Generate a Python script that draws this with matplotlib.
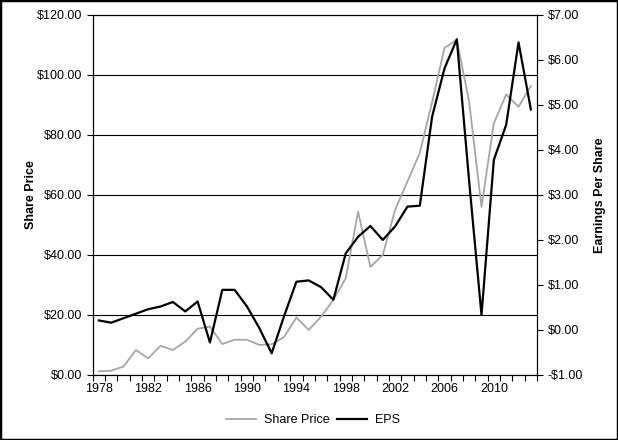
import numpy as np
import matplotlib.pyplot as plt
from matplotlib.patches import Rectangle
from matplotlib.ticker import FuncFormatter

plt.rcParams['font.family'] = ['Liberation Sans', 'DejaVu Sans']

years = list(range(1978, 2014))
share_price = [1.2, 1.4, 2.8, 8.3, 5.5, 9.7, 8.3, 11.1, 15.4, 16.1,
               10.3, 11.7, 11.7, 10.0, 10.2, 12.6, 19.1, 15.0, 19.4, 25.0,
               32.2, 54.4, 36.0, 40.0, 55.0, 64.5, 74.0, 91.0, 109.0, 111.7,
               91.0, 56.0, 83.9, 93.5, 89.4, 96.3]
eps = [0.21, 0.16, 0.26, 0.36, 0.46, 0.52, 0.62, 0.41, 0.63, -0.28,
       0.89, 0.89, 0.52, 0.04, -0.52, 0.30, 1.07, 1.10, 0.95, 0.67,
       1.70, 2.07, 2.31, 2.00, 2.30, 2.74, 2.76, 4.74, 5.81, 6.46,
       3.30, 0.33, 3.78, 4.56, 6.39, 4.90]
year_labels = list(range(1978, 2013, 4))


def money(v, pos):
    return '-${:.2f}'.format(-v) if v < 0 else '${:.2f}'.format(v)


fig = plt.figure(figsize=(6.18, 4.40), dpi=100)
ax = fig.add_axes([0.150, 0.148, 0.719, 0.818])
ax2 = ax.twinx()

ax.plot(years, share_price, color='#a6a6a6', lw=1.3, label='Share Price', zorder=3)
ax2.plot(years, eps, color='black', lw=1.6, label='EPS', zorder=3)

ax.set_xlim(1977.5, 2013.5)
ax.set_ylim(0, 120)
ax.set_yticks(np.arange(0, 121, 20))
ax.yaxis.set_major_formatter(FuncFormatter(money))
ax.grid(axis='y', color='black', lw=0.8)
ax.set_axisbelow(True)
ax.set_xticks(year_labels)
ax.set_xticks(np.arange(1977.5, 2014, 1), minor=True)
ax.tick_params(axis='x', which='major', length=0, labelsize=9, pad=6)
ax.tick_params(axis='x', which='minor', length=4, direction='out', width=0.8)
ax.tick_params(axis='y', length=4, width=0.8, labelsize=9)
ax.set_ylabel('Share Price', fontsize=9, fontweight='bold', labelpad=0)

ax2.set_ylim(-1, 7)
ax2.set_yticks(np.arange(-1, 8, 1))
ax2.yaxis.set_major_formatter(FuncFormatter(money))
ax2.tick_params(axis='y', length=4, width=0.8, labelsize=9)
ax2.set_ylabel('Earnings Per Share', fontsize=9, fontweight='bold', labelpad=8)

for a in (ax, ax2):
    for s in a.spines.values():
        s.set_linewidth(0.8)

h1, l1 = ax.get_legend_handles_labels()
h2, l2 = ax2.get_legend_handles_labels()
fig.legend(h1 + h2, l1 + l2, loc='center', bbox_to_anchor=(313 / 618, 1 - 420 / 440),
           ncol=2, frameon=False, fontsize=9, handlelength=2.4, columnspacing=0.6,
           handletextpad=0.6)

fig.patches.append(Rectangle((0, 0), 1, 1, transform=fig.transFigure, fill=False,
                             edgecolor='black', lw=2.5))

fig.savefig('out.png', dpi=100)
